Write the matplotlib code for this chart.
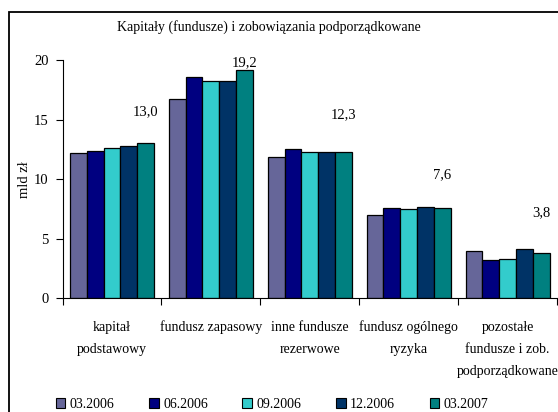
import matplotlib
matplotlib.use("Agg")
import matplotlib.pyplot as plt
from matplotlib.patches import Rectangle, Patch
import numpy as np

plt.rcParams['font.family'] = ['Liberation Serif', 'DejaVu Serif']

title = "Kapitały (fundusze) i zobowiązania podporządkowane"
categories = ["kapitał\npodstawowy", "fundusz zapasowy", "inne fundusze\nrezerwowe",
              "fundusz ogólnego\nryzyka", "pozostałe\nfundusze i zob.\npodporządkowane"]
series_names = ["03.2006", "06.2006", "09.2006", "12.2006", "03.2007"]
values = {
    "03.2006": [12.2, 16.75, 11.85, 7.0, 4.0],
    "06.2006": [12.35, 18.55, 12.55, 7.6, 3.2],
    "09.2006": [12.65, 18.2, 12.25, 7.5, 3.3],
    "12.2006": [12.75, 18.2, 12.25, 7.7, 4.15],
    "03.2007": [13.0, 19.2, 12.3, 7.6, 3.8],
}
colors = ["#666699", "#000080", "#33CCCC", "#003366", "#008080"]
value_labels = ["13,0", "19,2", "12,3", "7,6", "3,8"]
label_y = [15.7, 19.8, 15.4, 10.4, 7.2]
yticks = [0, 5, 10, 15, 20]
ylabel = "mld zł"

W, H = 558, 412
fig = plt.figure(figsize=(W / 100, H / 100), dpi=100)
fig.patch.set_facecolor("white")

# outer frame
fig.patches.append(Rectangle((9 / W, -0.05), 1.0, (H - 12) / H + 0.05, transform=fig.transFigure,
                             fill=False, edgecolor="black", linewidth=1.3))

ax = fig.add_axes([62.5 / W, (H - 298.3) / H, (557 - 62.5) / W, (298.3 - 60) / H])
n = len(series_names)
bw = 0.17
x0 = np.arange(len(categories))
for i, s in enumerate(series_names):
    xs = x0 + 0.075 + bw * i
    ax.bar(xs, values[s], width=bw, align="edge", color=colors[i], edgecolor="black",
           linewidth=0.9, label=s)

for j, lab in enumerate(value_labels):
    ax.text(x0[j] + 0.075 + bw * 4.5, label_y[j], lab, ha="center", va="center", fontsize=10.5)

ax.set_xlim(0, len(categories))
ax.set_ylim(0, 20)
ax.set_yticks(yticks)
ax.set_yticklabels([str(t) for t in yticks], fontsize=10.5)
ax.set_xticks(np.arange(len(categories) + 1))
ax.set_xticklabels([])
ax.set_xticks(x0 + 0.5, minor=True)
ax.set_xticklabels(categories, minor=True, fontsize=10, linespacing=1.9, va="top")
ax.tick_params(axis="x", which="minor", length=0, pad=16)
ax.tick_params(axis="x", which="major", length=5, width=0.8)
ax.tick_params(axis="y", length=5, width=0.8, pad=5)
for sp in ["top", "right"]:
    ax.spines[sp].set_visible(False)
ax.spines["left"].set_linewidth(0.8)
ax.spines["bottom"].set_linewidth(0.8)
ax.set_ylabel(ylabel, fontsize=10.5)
ax.yaxis.set_label_coords((31 - 62.5) / (557 - 62.5), (298.3 - 180) / (298.3 - 60))

fig.text(0.5 * (123 + 414) / W, 1 - 27 / H, title, ha="center", va="center", fontsize=10)

handles = [Patch(facecolor=c, edgecolor="black", linewidth=0.8) for c in colors]
fig.legend(handles, series_names, loc="center", bbox_to_anchor=(272 / W, 1 - 404 / H),
           ncol=5, frameon=False, fontsize=10, handlelength=0.7, handleheight=0.7,
           handletextpad=0.3, columnspacing=2.5)

fig.savefig("out.png", dpi=100)
